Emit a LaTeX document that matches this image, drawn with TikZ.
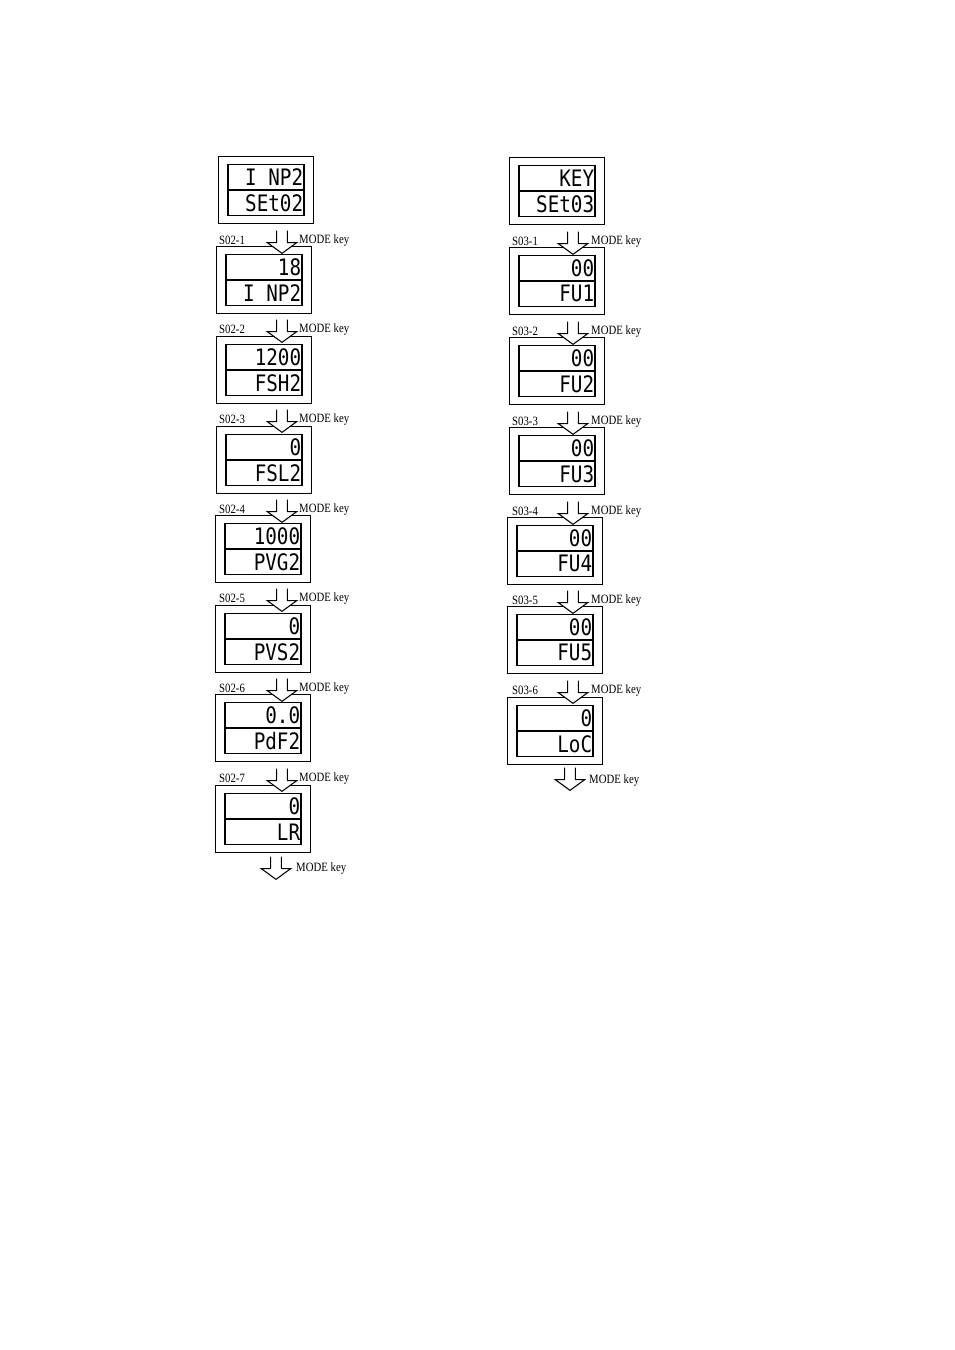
\documentclass[tikz,border=0pt]{standalone}
\usepackage{fontspec}
\setmainfont{Liberation Serif}
\newfontfamily\segfont{DejaVu Sans Mono}
\begin{document}
\begin{tikzpicture}[x=0.75pt,y=-0.75pt,
  outerbox/.style={draw,line width=1pt,minimum width=71.25pt,minimum height=50pt,inner sep=0pt},
  innerbox/.style={draw,line width=0.8pt,minimum width=57pt,minimum height=19pt,inner sep=0pt},
  seg/.style={font=\segfont\fontsize{17}{17}\selectfont,anchor=east,inner sep=1pt,xscale=0.85},
  lbl/.style={font=\fontsize{9.5}{10}\selectfont,anchor=west,inner sep=0pt,xscale=0.85},
  openarrow/.style={draw,line width=0.8pt,fill=white}]
\useasboundingbox (0,0) rectangle (954,1350);
\newcommand{\disp}[5]{%
  \node[outerbox] (#1) at (#2,#3) {};
  \node[innerbox] (#1t) at ([yshift=-9.6pt]#1.center) {};
  \node[innerbox] (#1b) at ([yshift=9.6pt]#1.center) {};
  \node[seg] (#1tt) at (#1t.east) {#4};
  \node[seg] (#1bt) at (#1b.east) {#5};}
\newcommand{\darrow}[3]{%
  \coordinate (#1) at (#2,#3);
  \draw[openarrow] ([xshift=-4pt,yshift=7pt]#1) -- ([xshift=-4pt,yshift=-2pt]#1) -- ([xshift=-11pt,yshift=-2pt]#1) -- ([yshift=-10pt]#1) -- ([xshift=11pt,yshift=-2pt]#1) -- ([xshift=4pt,yshift=-2pt]#1) -- ([xshift=4pt,yshift=7pt]#1);}
% left column
\disp{L0}{266}{190}{SEt02}{I NP2}
\disp{L1}{264}{280}{I NP2}{18}
\disp{L2}{264}{370}{FSH2}{1200}
\disp{L3}{264}{460}{FSL2}{0}
\disp{L4}{263}{549}{PVG2}{1000}
\disp{L5}{263}{639}{PVS2}{0}
\disp{L6}{263}{728}{PdF2}{0.0}
\disp{L7}{263}{819}{LR}{0}
\foreach \i/\y in {1/240,2/329,3/419,4/509,5/598,6/688,7/778}{
  \darrow{la\i}{282}{\y}
  \node[lbl] (ls\i) at (219,\y) {S02-\i};
  \node[lbl] (lm\i) at (299,\y) {MODE key};}
\darrow{la8}{276}{866}
\node[lbl] (lm8) at (296,868) {MODE key};
% right column
\disp{R0}{557}{191}{SEt03}{KEY}
\disp{R1}{557}{281}{FU1}{00}
\disp{R2}{557}{371}{FU2}{00}
\disp{R3}{557}{461}{FU3}{00}
\disp{R4}{555}{551}{FU4}{00}
\disp{R5}{555}{640}{FU5}{00}
\disp{R6}{555}{731}{LoC}{0}
\foreach \i/\y in {1/241,2/331,3/421,4/511,5/600,6/690}{
  \darrow{ra\i}{573}{\y}
  \node[lbl] (rs\i) at (512,\y) {S03-\i};
  \node[lbl] (rm\i) at (591,\y) {MODE key};}
\darrow{ra7}{570}{777}
\node[lbl] (rm7) at (589,780) {MODE key};
\end{tikzpicture}
\end{document}
